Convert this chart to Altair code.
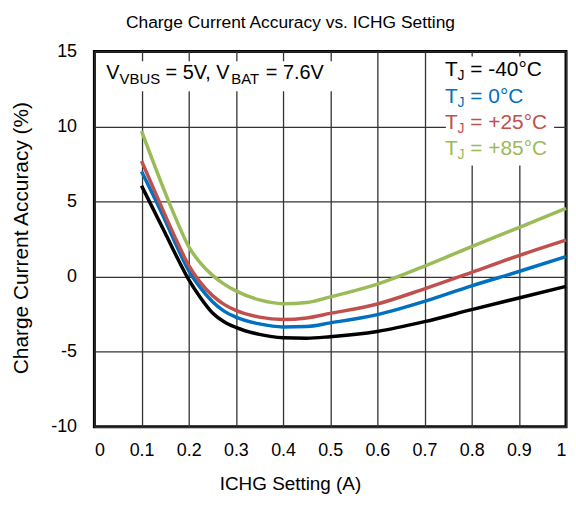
import altair as alt
import pandas as pd

# ---- data ----
ichg = [0.1, 0.15, 0.175, 0.2, 0.225, 0.25, 0.275, 0.3, 0.35, 0.4, 0.45, 0.5, 0.6, 0.7, 0.8, 0.9, 1.0]
acc_m40 = [6.05, 2.9, 1.3, -0.2, -1.4, -2.4, -3.0, -3.38, -3.85, -4.07, -4.1, -4.0, -3.65, -3.0, -2.2, -1.42, -0.65]
acc_0 = [7.0, 3.75, 2.0, 0.4, -0.75, -1.65, -2.3, -2.7, -3.15, -3.35, -3.32, -3.08, -2.53, -1.65, -0.61, 0.34, 1.33]
acc_25 = [7.7, 4.1, 2.35, 0.75, -0.4, -1.25, -1.85, -2.25, -2.7, -2.86, -2.75, -2.45, -1.82, -0.81, 0.29, 1.4, 2.43]
acc_85 = [9.7, 5.6, 3.7, 2.0, 0.9, 0.1, -0.5, -0.95, -1.55, -1.8, -1.72, -1.35, -0.5, 0.7, 2.0, 3.27, 4.55]
series_names = ["-40", "0", "+25", "+85"]
series_vals = [acc_m40, acc_0, acc_25, acc_85]
series_colors = ["#000000", "#0070C0", "#C0504D", "#9BBB59"]
x_ticks = [0, 0.1, 0.2, 0.3, 0.4, 0.5, 0.6, 0.7, 0.8, 0.9, 1.0]
y_ticks = [-10, -5, 0, 5, 10, 15]

rows = []
for name, vals in zip(series_names, series_vals):
    for x, y in zip(ichg, vals):
        rows.append({"ichg": x, "acc": y, "tj": name})
df = pd.DataFrame(rows)

FONT = "Liberation Sans"
W, H = 475, 378

# Arial / Liberation Sans advance widths (em)
CW = {"T": .611, "J": .5, " ": .278, "=": .584, "-": .333, "°": .4, "C": .722,
      "+": .584, "V": .667, "B": .667, "U": .722, "S": .667, "A": .667,
      ",": .278, ".": .278}
for d in "0123456789":
    CW[d] = .556


def tw(s, size):
    return sum(CW.get(c, .556) for c in s) * size


def txt(text, x, y, size, color="black", align="left", angle=0):
    return alt.Chart(alt.Data(values=[{"k": 0}])).mark_text(
        text=text, align=align, baseline="alphabetic", fontSize=size,
        font=FONT, color=color, angle=angle
    ).encode(x=alt.value(x), y=alt.value(y))


def box(x1, x2, y1, y2):
    return alt.Chart(alt.Data(values=[{"k": 0}])).mark_rect(
        fill="white"
    ).encode(x=alt.value(x1), x2=alt.value(x2), y=alt.value(y1), y2=alt.value(y2))


lines = alt.Chart(df).mark_line(strokeWidth=3.5, interpolate="monotone").encode(
    x=alt.X("ichg:Q", scale=alt.Scale(domain=[0, 1], nice=False),
            axis=alt.Axis(values=x_ticks, labelExpr="datum.value + ''", title=None)),
    y=alt.Y("acc:Q", scale=alt.Scale(domain=[-10, 15], nice=False),
            axis=alt.Axis(values=y_ticks, labelExpr="datum.value + ''", title=None)),
    color=alt.Color("tj:N", scale=alt.Scale(domain=series_names, range=series_colors),
                    legend=None),
    detail="tj:N",
)

layers = [box(8, 245, 10, 40), box(354, 463, 5, 115), lines]

# V annotation
vx, vy = 12, 28
MS, SS = 20, 15
parts = [("V", MS, 0), ("VBUS", SS, 5), (" = 5V, V", MS, 0), ("BAT", SS, 5), (" = 7.6V", MS, 0)]
cx = vx
for s, sz, dy in parts:
    st = s.lstrip(" ")
    off = tw(s[:len(s) - len(st)], sz)
    layers.append(txt(st, cx + off, vy + dy, sz))
    cx += tw(s, sz)

# legend
lx = 353
base_y = [25, 51.5, 78, 104.5]
LS, LSS = 21, 14
for name, col, by in zip(series_names, series_colors, base_y):
    layers.append(txt("T", lx, by, LS, col))
    jx = lx + tw("T", LS)
    layers.append(txt("J", jx, by + 4, LSS, col))
    rest = "= " + name + "°C"
    rx = jx + tw("J", LSS) + tw(" ", LS)
    layers.append(txt(rest, rx, by, LS, col))

# titles
layers.append(txt("Charge Current Accuracy vs. ICHG Setting", 197.5, -23.5, 17.5, align="center"))
layers.append(txt("ICHG Setting (A)", 197.5, 442, 19, align="center"))
layers.append(txt("Charge Current Accuracy (%)", -66.5, 188, 21, align="center", angle=270))

chart = alt.layer(*layers).properties(
    width=W, height=H,
    autosize=alt.AutoSizeParams(type="none"),
    padding={"left": 87, "top": 42, "right": 2, "bottom": 69},
).configure_view(
    stroke="black", strokeWidth=3
).configure_axis(
    domain=False, ticks=False, grid=True, gridColor="#333333", gridWidth=1.3,
    labelFont=FONT, labelFontSize=18, labelColor="black",
).configure_axisX(
    labelPadding=15
).configure_axisY(
    labelPadding=18
)

chart.save("out.html", embed_options={"renderer": "svg", "actions": False})
